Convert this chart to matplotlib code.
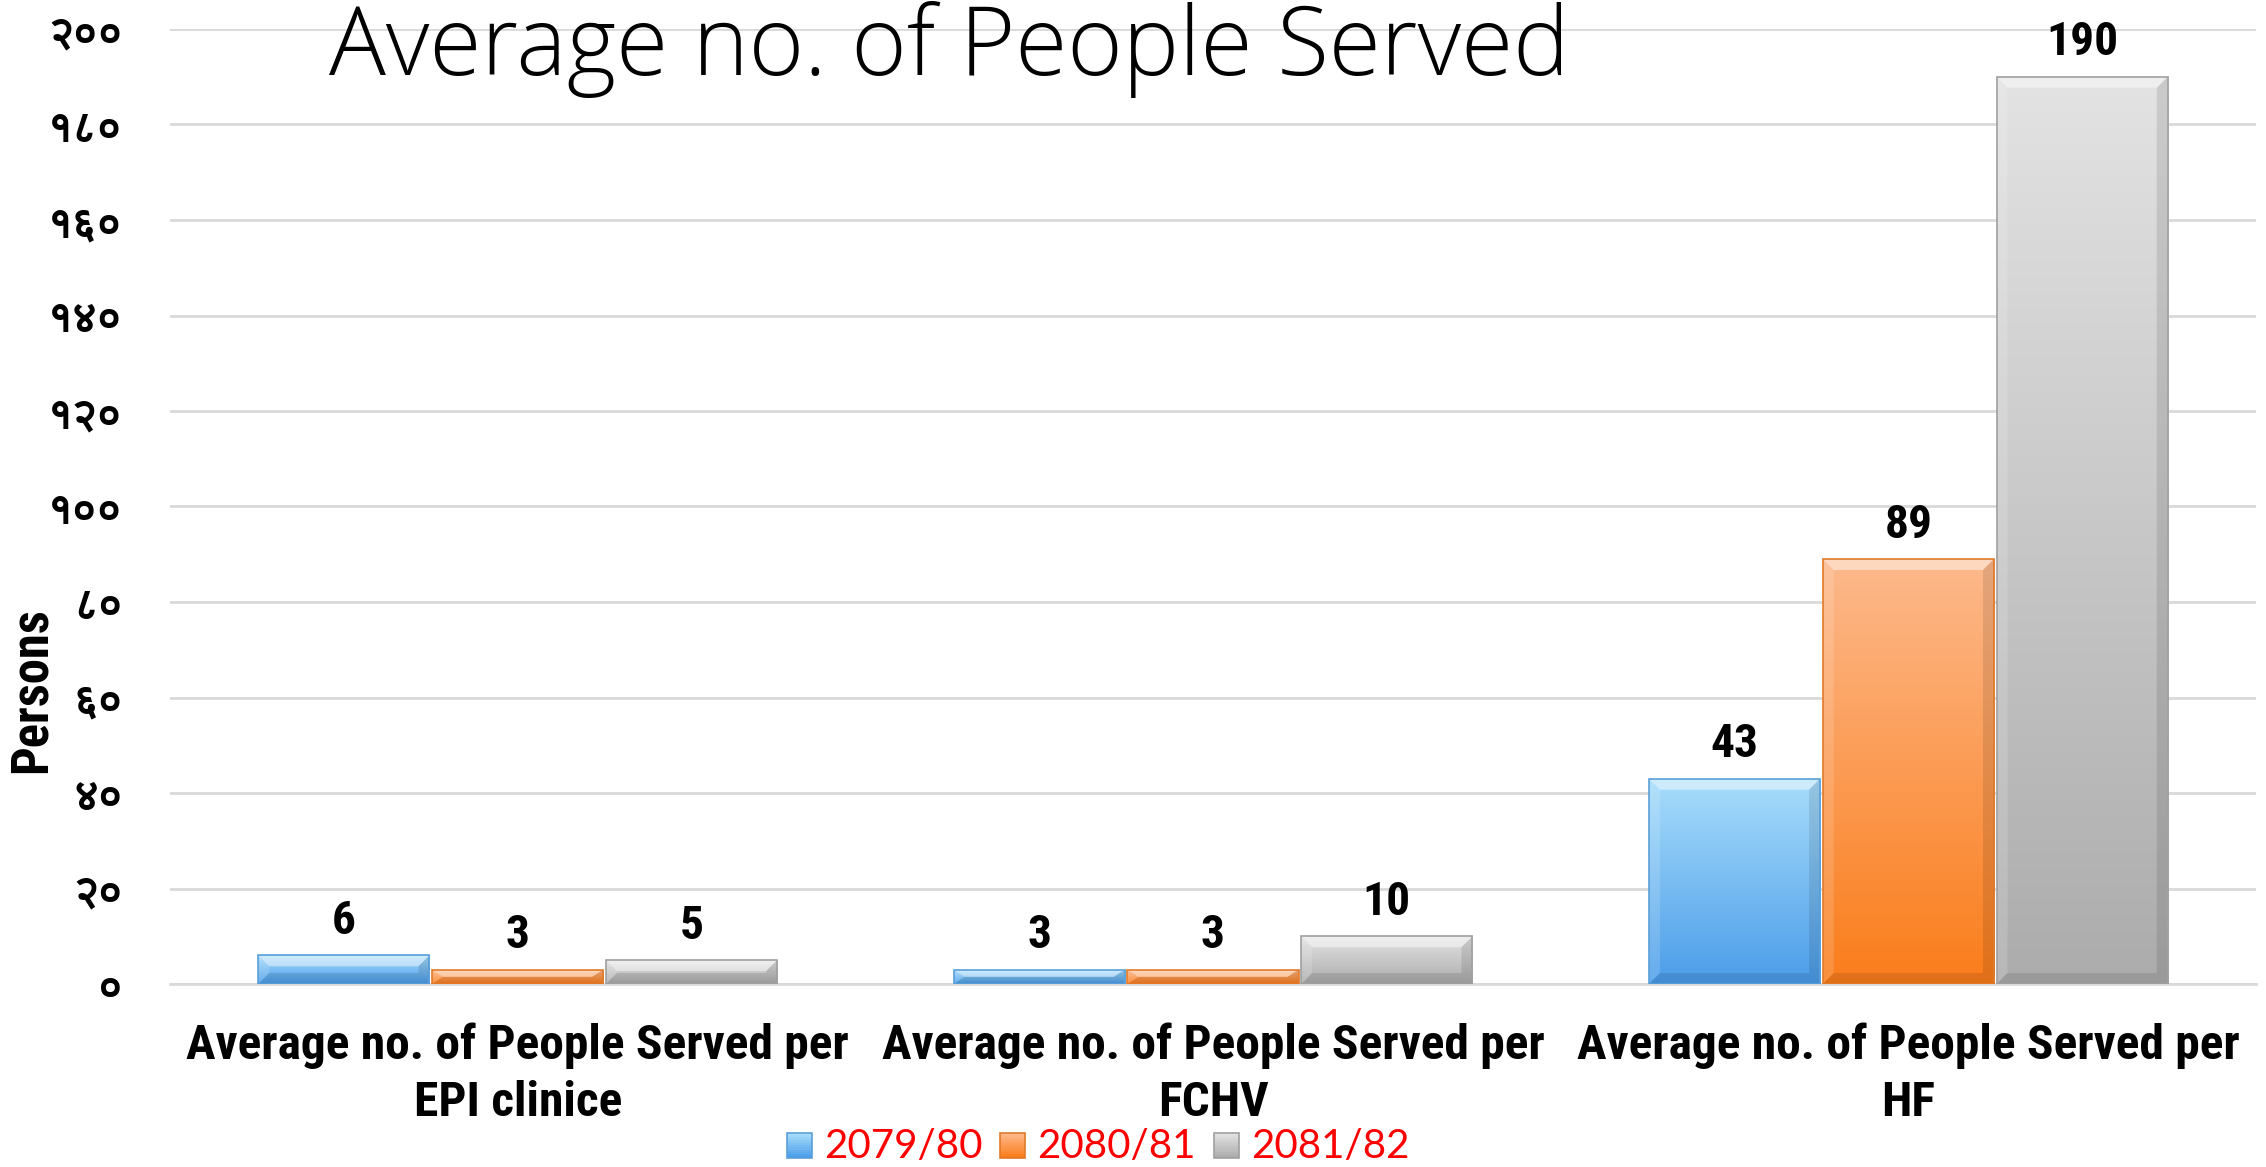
import sys
import numpy as np
import matplotlib
matplotlib.use("Agg")
import matplotlib.pyplot as plt
from matplotlib import font_manager as fm
from matplotlib.ft2font import FT2Font
from matplotlib.patches import Polygon, Patch, Rectangle
from matplotlib.legend_handler import HandlerBase
from matplotlib.colors import to_rgb

# ---------------- data ----------------
categories = [
    "Average no. of People Served per\nEPI clinice",
    "Average no. of People Served per\nFCHV",
    "Average no. of People Served per\nHF",
]
series_names = ["2079/80", "2080/81", "2081/82"]
values_2079_80 = [6, 3, 43]
values_2080_81 = [3, 3, 89]
values_2081_82 = [5, 10, 190]
y_ticks = [0, 20, 40, 60, 80, 100, 120, 140, 160, 180, 200]
y_tick_labels = ["०", "२०", "४०", "६०", "८०", "१००", "१२०", "१४०", "१६०", "१८०", "२००"]
title_text = "Average no. of People Served"
y_label_text = "Persons"

# ---------------- fonts ----------------
names = {f.name for f in fm.fontManager.ttflist}


def pick(cands, default="DejaVu Sans"):
    for c in cands:
        if c in names:
            return c
    return default


def find_light(cands):
    for c in cands:
        for f in fm.fontManager.ttflist:
            if f.name == c and isinstance(f.weight, int) and f.weight <= 300:
                return c, f.weight
    return pick(cands), "normal"


def find_devanagari():
    need = [ord(ch) for ch in "०१२४६८"]
    pref = []
    other = []
    for f in fm.fontManager.ttflist:
        try:
            cm = FT2Font(f.fname).get_charmap()
        except Exception:
            continue
        if all(n in cm for n in need):
            (pref if "bold" in str(f.weight).lower() or f.weight in (600, 700, 800) else other).append(f.name)
    lst = pref + other
    return lst[0] if lst else None


narrow = pick(["Liberation Sans Narrow", "Roboto Condensed", "Open Sans Condensed", "Lato", "Open Sans"])
regular = pick(["Liberation Sans Narrow", "Lato", "Open Sans", "Noto Sans"])
title_font, title_weight = find_light(["Open Sans", "Lato", "Roboto", "Noto Sans"])
dev_font = find_devanagari()
dev_family = [dev_font, "DejaVu Sans"] if dev_font else ["DejaVu Sans"]

plt.rcParams["font.family"] = [regular, "DejaVu Sans"]

# ---------------- figure ----------------
W, H = 2266, 1167
fig = plt.figure(figsize=(W / 100, H / 100), dpi=100)
ax_left, ax_right, ax_top, ax_bottom = 170, 2256, 29, 984
ax = fig.add_axes([ax_left / W, 1 - ax_bottom / H, (ax_right - ax_left) / W, (ax_bottom - ax_top) / H])
ax.set_xlim(-0.5, 2.5)
ax.set_ylim(0, 200)

x = np.arange(len(categories))
bw = 0.25
series = [values_2079_80, values_2080_81, values_2081_82]
tops = ["#a8ddfb", "#fdb98c", "#e3e3e3"]
bots = ["#4b9de9", "#fa7d1b", "#acacac"]
edges = ["#5a9fd8", "#e07a2a", "#a0a0a0"]

px_per_x = (ax_right - ax_left) / 3.0
px_per_y = (ax_bottom - ax_top) / 200.0
bev = 11
dx = bev / px_per_x

renderer = fig.canvas.get_renderer()


def fit_width(t, target):
    bb = t.get_window_extent(renderer)
    if bb.width > 0:
        t.set_fontsize(t.get_fontsize() * target / bb.width)


def gradient(i, n=256):
    top_c = np.array(to_rgb(tops[i]))
    bot_c = np.array(to_rgb(bots[i]))
    g = np.linspace(0, 1, n)[:, None]
    return top_c[None, :] * (1 - g) + bot_c[None, :] * g


value_texts = []
for i, vals in enumerate(series):
    bars = ax.bar(x + (i - 1) * bw, vals, bw * 0.985, color="none",
                  edgecolor=edges[i], linewidth=1.2, zorder=4)
    grad = gradient(i)
    img_arr = np.repeat(grad[:, None, :], 2, axis=1)
    for b, v in zip(bars, vals):
        x0, y0, w0, h0 = b.get_x(), b.get_y(), b.get_width(), b.get_height()
        im = ax.imshow(img_arr, extent=(x0, x0 + w0, y0, y0 + h0), aspect="auto",
                       origin="upper", zorder=3, interpolation="bilinear")
        im.set_clip_path(b)
        dy = min(bev / px_per_y, h0 / 2.0)
        x1, yt = x0 + w0, y0 + h0
        ax.add_patch(Polygon([(x0, yt), (x1, yt), (x1 - dx, yt - dy), (x0 + dx, yt - dy)],
                             closed=True, facecolor="white", alpha=0.45, lw=0, zorder=3.5))
        ax.add_patch(Polygon([(x0, y0), (x1, y0), (x1 - dx, y0 + dy), (x0 + dx, y0 + dy)],
                             closed=True, facecolor="black", alpha=0.10, lw=0, zorder=3.5))
        ax.add_patch(Polygon([(x0, y0), (x0, yt), (x0 + dx, yt - dy), (x0 + dx, y0 + dy)],
                             closed=True, facecolor="white", alpha=0.15, lw=0, zorder=3.5))
        ax.add_patch(Polygon([(x1, y0), (x1, yt), (x1 - dx, yt - dy), (x1 - dx, y0 + dy)],
                             closed=True, facecolor="black", alpha=0.10, lw=0, zorder=3.5))
        t = ax.annotate(str(v), (x0 + w0 / 2, yt), xytext=(0, 9), textcoords="offset points",
                        ha="center", va="bottom", fontsize=30, fontweight="bold",
                        family=[narrow, "DejaVu Sans"], zorder=5)
        value_texts.append(t)

ax.set_xlim(-0.5, 2.5)
ax.set_ylim(0, 200)

ref = [t for t in value_texts if t.get_text() == "190"][0]
fit_width(ref, 72)
for t in value_texts:
    t.set_fontsize(ref.get_fontsize())

# grid & spines
ax.set_yticks(y_ticks)
ax.yaxis.grid(True, color="#d9d9d9", linewidth=2)
ax.set_axisbelow(True)
for s in ["top", "right", "left"]:
    ax.spines[s].set_visible(False)
ax.spines["bottom"].set_color("#d9d9d9")
ax.spines["bottom"].set_linewidth(2)
ax.tick_params(axis="both", length=0)
ax.tick_params(axis="y", pad=34)
ax.tick_params(axis="x", pad=28)

ax.set_yticklabels(y_tick_labels, family=dev_family, fontweight="bold", fontsize=24)
ax.set_xticks(x)
ax.set_xticklabels(categories, family=[narrow, "DejaVu Sans"], fontweight="bold",
                   fontsize=28, linespacing=1.3)

fs = 24
for lab in ax.get_yticklabels():
    if lab.get_text() == "२००":
        fit_width(lab, 75)
        fs = lab.get_fontsize()
for lab in ax.get_yticklabels():
    lab.set_fontsize(fs)
xl = ax.get_xticklabels()
fit_width(xl[0], 663)
for lab in xl:
    lab.set_fontsize(xl[0].get_fontsize())

# y label
yl = fig.text(32 / W, 1 - 690 / H, y_label_text, rotation=90, ha="center", va="center",
              fontsize=30, fontweight="bold", family=[narrow, "DejaVu Sans"])
bb = yl.get_window_extent(renderer)
yl.set_fontsize(yl.get_fontsize() * 166 / bb.height)

# title
tt = fig.text(949 / W, 1 - 75 / H, title_text, ha="center", va="baseline",
              fontsize=60, fontweight=title_weight, family=[title_font, "DejaVu Sans"])
fit_width(tt, 1241)

# legend: size the text first, then lay it out
probe = fig.text(0, 0, series_names[0], fontsize=30, family=[regular, "DejaVu Sans"])
fit_width(probe, 158)
leg_fs = probe.get_fontsize()
probe.remove()


class GradientHandler(HandlerBase):
    def create_artists(self, legend, orig_handle, xdescent, ydescent, width, height, fontsize, trans):
        i = orig_handle.series_index
        side = min(width, height * 1.15)
        x0 = -xdescent + (width - side) / 2
        y0 = -ydescent + (height - side) / 2 - height * 0.05
        grad = gradient(i, 12)
        arts = []
        n = len(grad)
        for k, c in enumerate(grad):
            yk = y0 + side - (k + 1) * side / n
            arts.append(Rectangle((x0, yk), side, side / n, facecolor=c, edgecolor="none",
                                  transform=trans))
        arts.append(Rectangle((x0, y0), side, side, facecolor="none", edgecolor=edges[i],
                              linewidth=1.2, transform=trans))
        return arts


handles = []
for i in range(3):
    p = Patch(facecolor=bots[i], edgecolor=edges[i])
    p.series_index = i
    handles.append(p)

leg_y = 22
leg = fig.legend(handles, series_names, loc="center", bbox_to_anchor=(1098 / W, leg_y / H),
                 ncol=3, frameon=False, fontsize=leg_fs, handlelength=0.62, handleheight=0.62,
                 handletextpad=0.3, columnspacing=0.45, borderpad=0, borderaxespad=0,
                 handler_map={Patch: GradientHandler()})
for txt in leg.get_texts():
    txt.set_color("#ff0000")

# keep the legend text clear of the two-line category labels
fig.canvas.draw()
lab_bottom = min(l.get_window_extent(renderer).y0 for l in ax.get_xticklabels())
leg_top = max(t.get_window_extent(renderer).y1 for t in leg.get_texts())
leg_bot = min(t.get_window_extent(renderer).y0 for t in leg.get_texts())
if leg_top > lab_bottom - 1:
    shift = min(leg_top - lab_bottom + 2, max(leg_bot - 1, 0))
    leg.set_bbox_to_anchor((1098 / W, (leg_y - shift) / H), transform=fig.transFigure)
    fig.canvas.draw()
    leg_top = max(t.get_window_extent(renderer).y1 for t in leg.get_texts())
    if leg_top > lab_bottom - 1:
        extra = (leg_top - lab_bottom + 2) * 72 / fig.dpi
        ax.tick_params(axis="x", pad=28 - extra)

fig.savefig("out.png", dpi=100)
